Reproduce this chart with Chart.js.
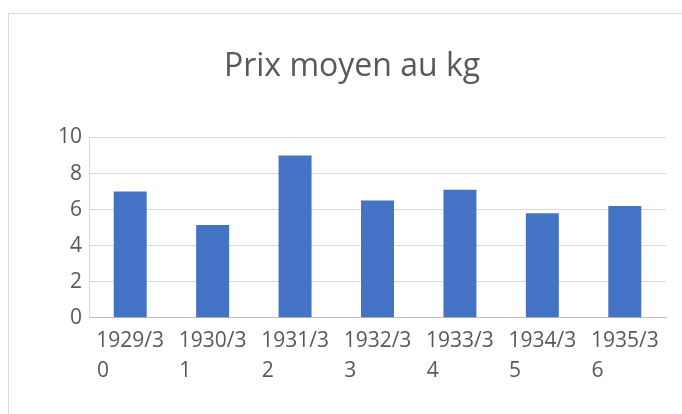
<!DOCTYPE html>
<html>
<head>
<meta charset="utf-8">
<script src="https://cdn.jsdelivr.net/npm/chart.js@4"></script>
<style>
  html, body { margin: 0; padding: 0; width: 682px; height: 414px; overflow: hidden; background: #fff; }
  #frame { position: absolute; left: 8px; top: 13px; width: 900px; height: 600px; border: 1px solid #d9d9d9; }
  #wrap { position: absolute; left: 0; top: 0; width: 682px; height: 414px; }
</style>
</head>
<body>
<div id="frame"></div>
<div id="wrap"><canvas id="myChart"></canvas></div>
<script>
// data
let seasons = ['1929/30', '1930/31', '1931/32', '1932/33', '1933/34', '1934/35', '1935/36'];
let prices = [7.0, 5.15, 9.0, 6.5, 7.1, 5.8, 6.2];
let yTicks = [0, 2, 4, 6, 8, 10];

let labelFont = '21px "Open Sans"';

// Excel wraps "1929/30" as "1929/3" + "0", second line flush left
function wrapLabel(text, ctx) {
    let first = text.slice(0, 6);
    let second = text.slice(6);
    ctx.save();
    ctx.font = labelFont;
    let w = ctx.measureText(first).width;
    while (ctx.measureText(second + ' ').width <= w) second += ' ';
    ctx.restore();
    return [first, second];
}

let ctx = document.getElementById('myChart').getContext('2d');
let chart = new Chart(ctx, {
    type: 'bar',
    data: {
        labels: seasons,
        datasets: [{
            label: 'Prix moyen au kg',
            backgroundColor: '#4472C4',
            data: prices,
            barPercentage: 0.4,
            categoryPercentage: 1
        }]
    },
    options: {
        responsive: true,
        maintainAspectRatio: false,
        animation: false,
        layout: { padding: { left: 38, right: 16, top: 0, bottom: 0 } },
        plugins: {
            legend: { display: false },
            tooltip: { enabled: false },
            title: {
                display: true,
                text: 'Prix moyen au kg',
                color: '#595959',
                font: { family: 'Open Sans', size: 32, weight: '400', lineHeight: 1.2 },
                padding: { top: 47.5, bottom: 51.6 }
            }
        },
        scales: {
            x: {
                grid: { display: false, drawTicks: false },
                border: { display: true, color: '#bfbfbf', width: 1 },
                ticks: {
                    color: '#595959',
                    font: { family: 'Open Sans', size: 21, lineHeight: 1.43 },
                    padding: 8,
                    maxRotation: 0,
                    autoSkip: false,
                    callback: function (value) {
                        return wrapLabel(this.getLabelForValue(value), this.chart.ctx);
                    }
                },
                afterFit: s => { s.height = 96.3; }
            },
            y: {
                min: 0,
                max: 10,
                grid: { color: '#d9d9d9', drawTicks: false },
                border: { display: true, color: '#d9d9d9' },
                afterBuildTicks: s => { s.ticks = yTicks.map(v => ({ value: v })); },
                ticks: {
                    color: '#595959',
                    font: { family: 'Open Sans', size: 21 },
                    padding: 7
                },
                afterFit: s => { s.width = 51; }
            }
        }
    }
});
</script>
</body>
</html>
